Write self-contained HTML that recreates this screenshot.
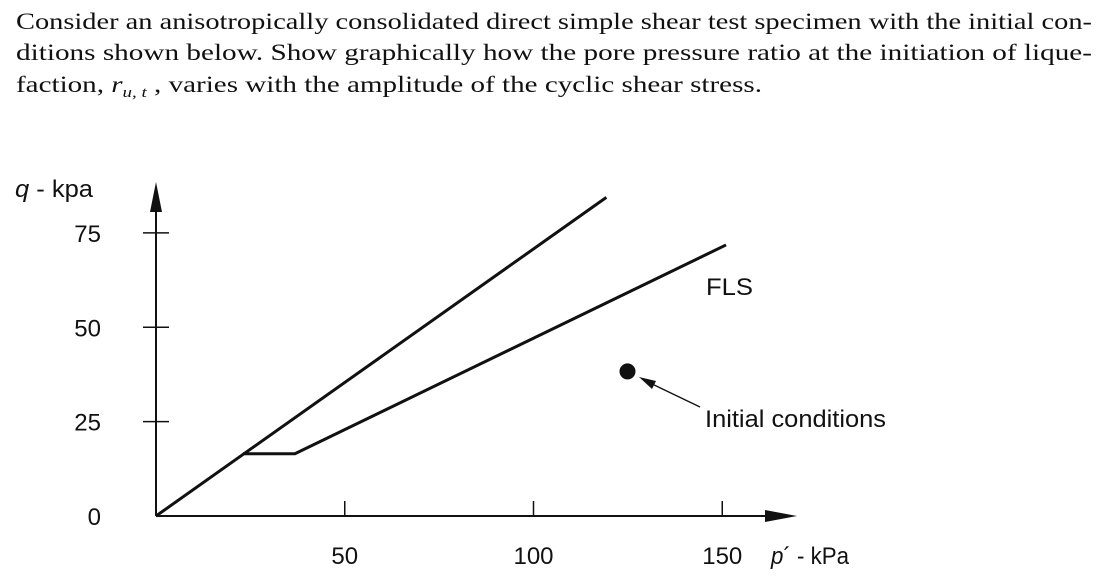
<!DOCTYPE html>
<html><head><meta charset="utf-8"><style>
html,body{margin:0;padding:0;background:#fff;width:1104px;height:586px;overflow:hidden}
svg{display:block}
.s{font-family:"Liberation Serif",serif;font-size:23px;fill:#111}
.a{font-family:"Liberation Sans",sans-serif;font-size:24px;fill:#111}
</style></head><body>
<svg width="1104" height="586" viewBox="0 0 1104 586">
<g>
<text class="s" x="16" y="29" textLength="1076" lengthAdjust="spacingAndGlyphs">Consider an anisotropically consolidated direct simple shear test specimen with the initial con-</text>
<text class="s" x="16" y="60" textLength="1076" lengthAdjust="spacingAndGlyphs">ditions shown below. Show graphically how the pore pressure ratio at the initiation of lique-</text>
<text class="s" x="16" y="92" textLength="746" lengthAdjust="spacingAndGlyphs">faction, <tspan font-style="italic">r</tspan><tspan font-style="italic" font-size="15" dy="5">u, t</tspan><tspan dy="-5"> , varies with the amplitude of the cyclic shear stress.</tspan></text>
</g>
<g id="chart"></g>
</svg>
<script>
const xTicks=[50,100,150];
const yTicks=[0,25,50,75];
const line1P=[0,119.3];
const line1Q=[0,84.4];
const flsP=[23,36.8,151];
const flsQ=[16.5,16.5,71.8];
const initP=[124.9];
const initQ=[38.3];
const X0=156,Y0=516,K=3.775;
const sx=p=>X0+p*K, sy=q=>Y0-q*K;
const g=document.getElementById('chart');
const NS='http://www.w3.org/2000/svg';
function mk(t,a){const e=document.createElementNS(NS,t);for(const k in a)e.setAttribute(k,a[k]);g.appendChild(e);return e;}
let e;
e=mk('line',{x1:X0,y1:Y0,x2:785,y2:Y0,stroke:'#111','stroke-width':2});


e=mk('polygon',{points:'797,516 765,510 765,522',fill:'#111'});


e=mk('line',{x1:X0,y1:Y0,x2:X0,y2:195,stroke:'#111','stroke-width':2});


e=mk('polygon',{points:'156,182 150,212 162,212',fill:'#111'});


xTicks.forEach(v=>{
 e=mk('line',{x1:sx(v),y1:Y0-15,x2:sx(v),y2:Y0,stroke:'#111','stroke-width':1.5});
 
 
 e=mk('text',{x:sx(v),y:564,'text-anchor':'middle',class:'a'});e.textContent=v;
 
 
});
yTicks.forEach(v=>{
 if(v>0){e=mk('line',{x1:X0-13,y1:sy(v),x2:X0+13,y2:sy(v),stroke:'#111','stroke-width':1.5});
 
 }
 e=mk('text',{x:101,y:sy(v)+9,'text-anchor':'end',class:'a'});e.textContent=v;
 
 
});
e=mk('polyline',{points:line1P.map((p,i)=>sx(p)+','+sy(line1Q[i])).join(' '),fill:'none',stroke:'#111','stroke-width':3});


e=mk('polyline',{points:flsP.map((p,i)=>sx(p)+','+sy(flsQ[i])).join(' '),fill:'none',stroke:'#111','stroke-width':3});


initP.forEach((p,i)=>{e=mk('circle',{cx:sx(p),cy:sy(initQ[i]),r:8,fill:'#111'});
 
 });
e=mk('line',{x1:700,y1:407,x2:650,y2:383,stroke:'#111','stroke-width':1.3});


e=mk('polygon',{points:'639,377 656,381 652,389',fill:'#111'});


e=mk('text',{x:15,y:197,class:'a',textLength:78,lengthAdjust:'spacingAndGlyphs'});
e.innerHTML='<tspan font-style="italic">q</tspan> - kpa';


e=mk('text',{x:706,y:295,class:'a',textLength:47,lengthAdjust:'spacingAndGlyphs'});e.textContent='FLS';


e=mk('text',{x:705,y:427,class:'a',textLength:181,lengthAdjust:'spacingAndGlyphs'});e.textContent='Initial conditions';


e=mk('text',{x:771,y:564,class:'a',textLength:78,lengthAdjust:'spacingAndGlyphs'});e.innerHTML='<tspan font-style="italic">p</tspan>´ - kPa';


</script>
</body></html>
